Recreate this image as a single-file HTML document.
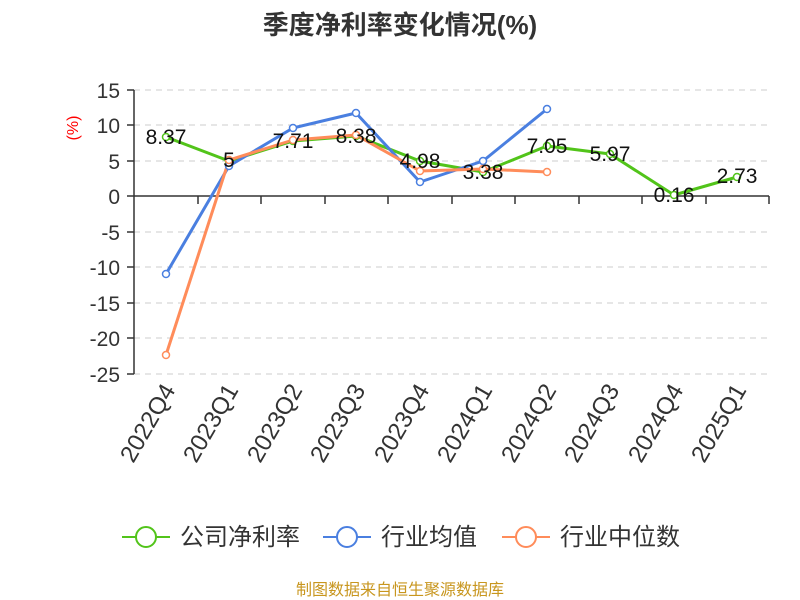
<!DOCTYPE html>
<html><head><meta charset="utf-8"><style>body{margin:0;background:#fff}svg{display:block}text{font-family:"Liberation Sans","Noto Sans CJK SC",sans-serif}</style></head><body>
<svg width="800" height="600" xmlns="http://www.w3.org/2000/svg">
<text x="400" y="34" text-anchor="middle" font-size="26" font-weight="bold" fill="#333">季度净利率变化情况(%)</text>
<g stroke="#ccc" stroke-dasharray="6,5" stroke-width="1">
<line x1="134" x2="769" y1="90" y2="90"/><line x1="134" x2="769" y1="125" y2="125"/><line x1="134" x2="769" y1="161" y2="161"/>
<line x1="134" x2="769" y1="232" y2="232"/><line x1="134" x2="769" y1="267" y2="267"/><line x1="134" x2="769" y1="303" y2="303"/><line x1="134" x2="769" y1="338" y2="338"/><line x1="134" x2="769" y1="374" y2="374"/>
</g>
<g stroke="#333" stroke-width="1.5">
<line x1="134" x2="134" y1="90" y2="374"/>
<line x1="134" x2="769" y1="196" y2="196"/>
<line x1="127" x2="134" y1="90" y2="90"/><line x1="127" x2="134" y1="125" y2="125"/><line x1="127" x2="134" y1="161" y2="161"/><line x1="127" x2="134" y1="196" y2="196"/><line x1="127" x2="134" y1="232" y2="232"/><line x1="127" x2="134" y1="267" y2="267"/><line x1="127" x2="134" y1="303" y2="303"/><line x1="127" x2="134" y1="338" y2="338"/><line x1="127" x2="134" y1="374" y2="374"/>
<line x1="198" x2="198" y1="196" y2="204"/><line x1="261" x2="261" y1="196" y2="204"/><line x1="325" x2="325" y1="196" y2="204"/><line x1="388" x2="388" y1="196" y2="204"/><line x1="452" x2="452" y1="196" y2="204"/><line x1="515" x2="515" y1="196" y2="204"/><line x1="579" x2="579" y1="196" y2="204"/><line x1="642" x2="642" y1="196" y2="204"/><line x1="706" x2="706" y1="196" y2="204"/><line x1="769" x2="769" y1="196" y2="204"/>
</g>
<g font-size="21" fill="#333" text-anchor="end">
<text x="120" y="98">15</text><text x="120" y="133">10</text><text x="120" y="169">5</text><text x="120" y="204">0</text><text x="120" y="240">-5</text><text x="120" y="275">-10</text><text x="120" y="311">-15</text><text x="120" y="346">-20</text><text x="120" y="382">-25</text>
</g>
<text x="78" y="128" font-size="16" fill="red" transform="rotate(-90 78 128)" text-anchor="middle">(%)</text>
<g font-size="24" fill="#333" text-anchor="end">
<text transform="translate(176,390) rotate(-60)">2022Q4</text>
<text transform="translate(239,390) rotate(-60)">2023Q1</text>
<text transform="translate(303,390) rotate(-60)">2023Q2</text>
<text transform="translate(366,390) rotate(-60)">2023Q3</text>
<text transform="translate(430,390) rotate(-60)">2023Q4</text>
<text transform="translate(493,390) rotate(-60)">2024Q1</text>
<text transform="translate(557,390) rotate(-60)">2024Q2</text>
<text transform="translate(620,390) rotate(-60)">2024Q3</text>
<text transform="translate(684,390) rotate(-60)">2024Q4</text>
<text transform="translate(747,390) rotate(-60)">2025Q1</text>
</g>
<g fill="none" stroke-width="3" stroke-linejoin="round">
<polyline stroke="#52c41a" points="166,137 229,161 293,141 356,136 420,161 483,172 547,146 610,154 674,195 737,177"/>
<polyline stroke="#4a7fe0" points="166,274 229,166 293,128 356,113 420,182 483,161 547,109"/>
<polyline stroke="#ff8c5a" points="166,355 229,160 293,140 356,135 420,171 483,169 547,172"/>
</g>
<g fill="#fff" stroke-width="1.5">
<g stroke="#52c41a"><circle cx="166" cy="137" r="3.5"/><circle cx="229" cy="161" r="3.5"/><circle cx="293" cy="141" r="3.5"/><circle cx="356" cy="136" r="3.5"/><circle cx="420" cy="161" r="3.5"/><circle cx="483" cy="172" r="3.5"/><circle cx="547" cy="146" r="3.5"/><circle cx="610" cy="154" r="3.5"/><circle cx="674" cy="195" r="3.5"/><circle cx="737" cy="177" r="3.5"/></g>
<g stroke="#4a7fe0"><circle cx="166" cy="274" r="3.5"/><circle cx="229" cy="166" r="3.5"/><circle cx="293" cy="128" r="3.5"/><circle cx="356" cy="113" r="3.5"/><circle cx="420" cy="182" r="3.5"/><circle cx="483" cy="161" r="3.5"/><circle cx="547" cy="109" r="3.5"/></g>
<g stroke="#ff8c5a"><circle cx="166" cy="355" r="3.5"/><circle cx="229" cy="160" r="3.5"/><circle cx="293" cy="140" r="3.5"/><circle cx="356" cy="135" r="3.5"/><circle cx="420" cy="171" r="3.5"/><circle cx="483" cy="169" r="3.5"/><circle cx="547" cy="172" r="3.5"/></g>
</g>
<g font-size="21" fill="#111" text-anchor="middle">
<text x="166" y="144">8.37</text><text x="229" y="167">5</text><text x="293" y="148">7.71</text><text x="356" y="143">8.38</text><text x="420" y="168">4.98</text><text x="483" y="179">3.38</text><text x="547" y="153">7.05</text><text x="610" y="161">5.97</text><text x="674" y="202">0.16</text><text x="737" y="183">2.73</text>
</g>
<g stroke-width="2" fill="#fff">
<line x1="122" x2="170" y1="537" y2="537" stroke="#52c41a"/><circle cx="146" cy="537" r="10" stroke="#52c41a"/>
<line x1="323" x2="371" y1="537" y2="537" stroke="#4a7fe0"/><circle cx="347" cy="537" r="10" stroke="#4a7fe0"/>
<line x1="502" x2="550" y1="537" y2="537" stroke="#ff8c5a"/><circle cx="526" cy="537" r="10" stroke="#ff8c5a"/>
</g>
<g font-size="24" fill="#333">
<text x="180" y="545">公司净利率</text><text x="381" y="545">行业均值</text><text x="560" y="545">行业中位数</text>
</g>
<text x="400" y="595" text-anchor="middle" font-size="16" fill="#c8961e">制图数据来自恒生聚源数据库</text>
</svg>
</body></html>
